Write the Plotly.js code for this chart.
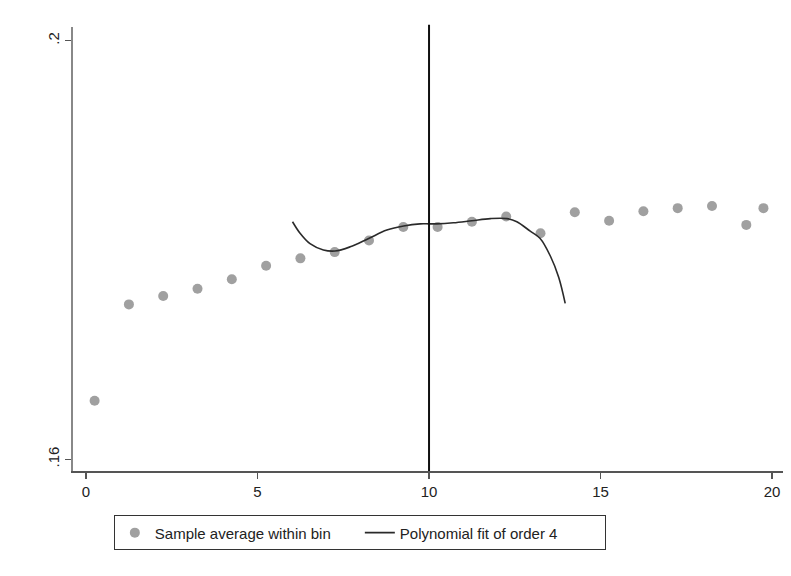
<!DOCTYPE html>
<html>
<head>
<meta charset="utf-8">
<script src="https://cdn.plot.ly/plotly-3.0.1.min.js"></script>
<style>html,body{margin:0;padding:0;background:#fff;}#chart{width:791px;height:576px;}</style>
</head>
<body>
<div id="chart"></div>
<script>
// Bin averages
var binX = [0.25, 1.25, 2.25, 3.25, 4.25, 5.25, 6.25, 7.25, 8.25, 9.25, 10.25,
            11.25, 12.25, 13.25, 14.25, 15.25, 16.25, 17.25, 18.25, 19.25, 19.75];
var binY = [0.1656, 0.1748, 0.1756, 0.1763, 0.1772, 0.1785, 0.1792, 0.1798, 0.1809, 0.1822, 0.1822,
            0.1827, 0.1832, 0.1816, 0.1836, 0.1828, 0.1837, 0.1840, 0.1842, 0.1824, 0.1840];
// Polynomial fit
var fitX = [6.02, 6.24, 6.53, 6.92, 7.26, 7.70, 8.24, 8.77, 9.26, 9.74, 10.0,
            10.23, 10.71, 11.25, 11.79, 12.27, 12.56, 12.95, 13.24, 13.54, 13.78, 13.97];
var fitY = [0.1827, 0.1816, 0.1806, 0.1800, 0.1799, 0.1803, 0.1811, 0.1819, 0.1823, 0.1825, 0.1825,
            0.1825, 0.1826, 0.1828, 0.1830, 0.1830, 0.1827, 0.1818, 0.1811, 0.1794, 0.1774, 0.1749];
var cutoff = 10;
var xTicks = [0, 5, 10, 15, 20];
var yTickVals = [0.16, 0.2];
var yTickText = ['.16', '.2'];

var traces = [
  {x: binX, y: binY, type: 'scatter', mode: 'markers', name: 'Sample average within bin',
   marker: {color: '#a0a0a0', size: 10}},
  {x: fitX, y: fitY, type: 'scatter', mode: 'lines', name: 'Polynomial fit of order 4',
   line: {color: '#2a2a2a', width: 1.6, shape: 'spline'}}
];

var layout = {
  width: 791, height: 576,
  margin: {l: 73, r: 8, t: 27, b: 105},
  paper_bgcolor: '#fff', plot_bgcolor: '#fff',
  font: {family: 'Liberation Sans, Arial, sans-serif', size: 15, color: '#222'},
  showlegend: true,
  legend: {orientation: 'h', x: 0.404, xanchor: 'center', y: -0.1, yanchor: 'top',
           entrywidth: 200, entrywidthmode: 'pixels',
           bordercolor: '#333', borderwidth: 1, bgcolor: '#fff',
           font: {size: 15, color: '#222'}},
  xaxis: {range: [-0.38, 20.32], tickvals: xTicks, ticks: 'outside', ticklen: 6, tickwidth: 1.2,
          tickcolor: '#555', showline: true, linecolor: '#555', linewidth: 1.5,
          showgrid: false, zeroline: false},
  yaxis: {range: [0.15888, 0.20131], tickvals: yTickVals, ticktext: yTickText, tickangle: -90,
          ticks: 'outside', ticklen: 6, tickwidth: 1.2, tickcolor: '#555',
          showline: true, linecolor: '#888', linewidth: 1.8, showgrid: false, zeroline: false},
  shapes: [{type: 'line', xref: 'x', yref: 'paper', x0: cutoff, x1: cutoff, y0: 0, y1: 1.005,
            line: {color: '#111', width: 2}}]
};

Plotly.newPlot('chart', traces, layout, {displayModeBar: false, staticPlot: true});
</script>
</body>
</html>
